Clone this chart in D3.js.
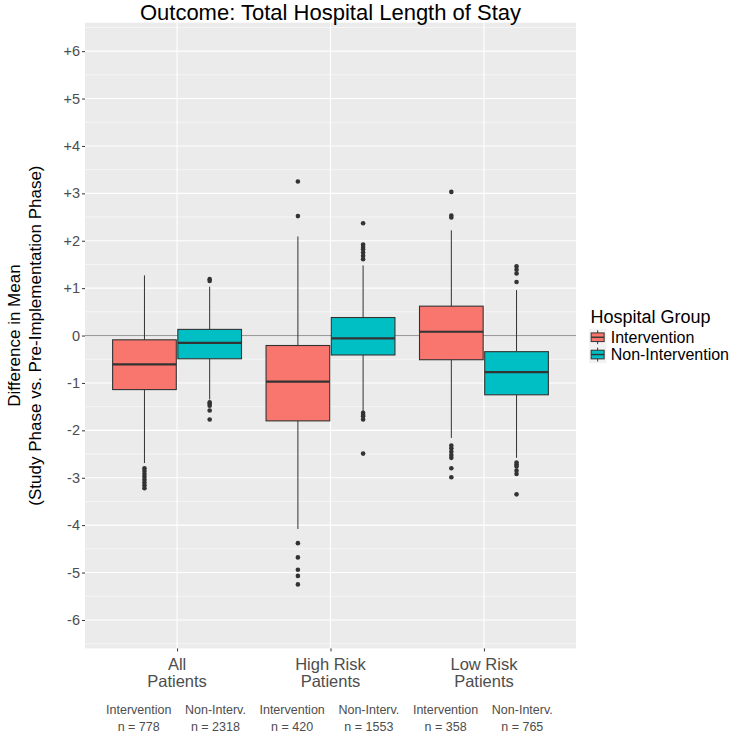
<!DOCTYPE html>
<html>
<head>
<meta charset="utf-8">
<script src="https://cdn.jsdelivr.net/npm/d3@7"></script>
<style>
  html, body { margin: 0; padding: 0; background: #ffffff; }
  svg { display: block; font-family: "Liberation Sans", Arial, Helvetica, sans-serif; }
</style>
</head>
<body>
<svg id="chart" width="750" height="750"></svg>
<script>
// ---------------- DATA ----------------
const title = "Outcome: Total Hospital Length of Stay";
const yTitleLines = ["Difference in Mean", "(Study Phase vs. Pre-Implementation Phase)"];
const categories = [["All", "Patients"], ["High Risk", "Patients"], ["Low Risk", "Patients"]];
const groups = ["Intervention", "Non-Intervention"];
const groupColors = ["#F8766D", "#00BFC4"];
const yTicks = [6, 5, 4, 3, 2, 1, 0, -1, -2, -3, -4, -5, -6];
const yTickLabels = ["+6", "+5", "+4", "+3", "+2", "+1", "0", "-1", "-2", "-3", "-4", "-5", "-6"];

// Intervention box statistics (per category)
const intLowerWhisker = [-2.69, -4.08, -2.16];
const intQ1           = [-1.14, -1.80, -0.51];
const intMedian       = [-0.61, -0.97,  0.08];
const intQ3           = [-0.09, -0.21,  0.62];
const intUpperWhisker = [ 1.27,  2.09,  2.22];
const intOutliers = [
  [-2.80, -2.86, -2.92, -2.98, -3.04, -3.10, -3.16, -3.22],
  [3.25, 2.52, -4.38, -4.68, -4.94, -5.07, -5.25],
  [3.03, 2.53, 2.49, -2.32, -2.38, -2.45, -2.52, -2.58, -2.80, -2.99]
];

// Non-Intervention box statistics (per category)
const nonLowerWhisker = [-1.35, -1.61, -2.58];
const nonQ1           = [-0.49, -0.41, -1.25];
const nonMedian       = [-0.155, -0.06, -0.77];
const nonQ3           = [ 0.13,  0.38, -0.34];
const nonUpperWhisker = [ 1.03,  1.48,  0.96];
const nonOutliers = [
  [1.19, 1.15, -1.41, -1.44, -1.48, -1.58, -1.77],
  [2.37, 1.92, 1.87, 1.82, 1.75, 1.68, 1.61, -1.63, -1.67, -1.70, -1.77, -2.49],
  [1.46, 1.39, 1.31, 1.13, -2.68, -2.72, -2.76, -2.85, -2.92, -3.35]
];

// Sample size annotations
const sampleLabels = ["Intervention", "Non-Interv."];
const sampleN = [[778, 2318], [420, 1553], [358, 765]];

// ---------------- BUILD ----------------
const seriesStats = [
  { lw: intLowerWhisker, q1: intQ1, med: intMedian, q3: intQ3, uw: intUpperWhisker, out: intOutliers },
  { lw: nonLowerWhisker, q1: nonQ1, med: nonMedian, q3: nonQ3, uw: nonUpperWhisker, out: nonOutliers }
];
const boxes = [];
seriesStats.forEach((s, gi) => {
  categories.forEach((c, ci) => {
    boxes.push({ ci, gi, lw: s.lw[ci], q1: s.q1[ci], med: s.med[ci], q3: s.q3[ci], uw: s.uw[ci], out: s.out[ci] });
  });
});

const svg = d3.select("#chart");
const panel = { left: 85, right: 576, top: 22.7, bottom: 648.4 };

const x = d3.scaleLinear().domain([-0.6, categories.length - 0.4]).range([panel.left, panel.right]);
const y = d3.scaleLinear().domain([-6.6, 6.6]).range([panel.bottom, panel.top]);

const dodge = 0.2125;   // offset of each box from category center (category units)
const boxW = 0.415;     // box width (category units)
const unit = x(1) - x(0);

// panel background
svg.append("rect")
  .attr("x", panel.left).attr("y", panel.top)
  .attr("width", panel.right - panel.left).attr("height", panel.bottom - panel.top)
  .attr("fill", "#EBEBEB");

// minor gridlines
const minorTicks = d3.range(-6.5, 6.6, 1);
svg.append("g").selectAll("line").data(minorTicks).join("line")
  .attr("x1", panel.left).attr("x2", panel.right)
  .attr("y1", d => y(d)).attr("y2", d => y(d))
  .attr("stroke", "#ffffff").attr("stroke-width", 0.55);

// major gridlines
svg.append("g").selectAll("line").data(yTicks).join("line")
  .attr("x1", panel.left).attr("x2", panel.right)
  .attr("y1", d => y(d)).attr("y2", d => y(d))
  .attr("stroke", "#ffffff").attr("stroke-width", 1.1);
svg.append("g").selectAll("line").data(categories.map((c, i) => i)).join("line")
  .attr("x1", d => x(d)).attr("x2", d => x(d))
  .attr("y1", panel.top).attr("y2", panel.bottom)
  .attr("stroke", "#ffffff").attr("stroke-width", 1.1);

// zero reference line
svg.append("line")
  .attr("x1", panel.left).attr("x2", panel.right)
  .attr("y1", y(0)).attr("y2", y(0))
  .attr("stroke", "#8a8a8a").attr("stroke-width", 0.9);

// boxes
const gBoxes = svg.append("g");
boxes.forEach(b => {
  const cx = x(b.ci + (b.gi === 0 ? -dodge : dodge));
  const hw = boxW * unit / 2;
  const g = gBoxes.append("g");
  // whiskers
  g.append("line").attr("x1", cx).attr("x2", cx).attr("y1", y(b.q3)).attr("y2", y(b.uw))
    .attr("stroke", "#333333").attr("stroke-width", 1);
  g.append("line").attr("x1", cx).attr("x2", cx).attr("y1", y(b.q1)).attr("y2", y(b.lw))
    .attr("stroke", "#333333").attr("stroke-width", 1);
  // box
  g.append("rect").attr("x", cx - hw).attr("y", y(b.q3))
    .attr("width", 2 * hw).attr("height", y(b.q1) - y(b.q3))
    .attr("fill", groupColors[b.gi]).attr("stroke", "#333333").attr("stroke-width", 1.1);
  // median
  g.append("line").attr("x1", cx - hw).attr("x2", cx + hw).attr("y1", y(b.med)).attr("y2", y(b.med))
    .attr("stroke", "#333333").attr("stroke-width", 2.2);
  // outliers
  g.selectAll("circle").data(b.out).join("circle")
    .attr("cx", cx).attr("cy", d => y(d)).attr("r", 2.3).attr("fill", "#333333");
});

// y axis
const yAxis = d3.axisLeft(y).tickValues(yTicks).tickSize(3).tickPadding(2)
  .tickFormat((d, i) => yTickLabels[i]);
const gy = svg.append("g").attr("transform", `translate(${panel.left},0)`).call(yAxis);
gy.select(".domain").remove();
gy.selectAll(".tick line").attr("stroke", "#333333").attr("stroke-width", 1);
gy.selectAll(".tick text").attr("fill", "#4D4D4D").style("font-size", "14.5px")
  .style("font-family", "'Liberation Sans', Arial, sans-serif");

// x axis
const xAxis = d3.axisBottom(x).tickValues(categories.map((c, i) => i)).tickSize(3).tickFormat("");
const gx = svg.append("g").attr("transform", `translate(0,${panel.bottom})`).call(xAxis);
gx.select(".domain").remove();
gx.selectAll(".tick line").attr("stroke", "#333333").attr("stroke-width", 1);

// category labels
const catG = svg.append("g").attr("fill", "#4D4D4D").style("font-size", "16.5px").attr("text-anchor", "middle");
categories.forEach((lines, i) => {
  lines.forEach((ln, li) => {
    catG.append("text").attr("x", x(i)).attr("y", 669.5 + li * 17).text(ln);
  });
});

// sample-size annotations
const nG = svg.append("g").attr("fill", "#4D4D4D").style("font-size", "12.5px").attr("text-anchor", "middle");
sampleN.forEach((ns, ci) => {
  ns.forEach((n, gi) => {
    const px = x(ci + (gi === 0 ? -0.25 : 0.25));
    nG.append("text").attr("x", px).attr("y", 714).text(sampleLabels[gi]);
    nG.append("text").attr("x", px).attr("y", 731).text("n = " + n);
  });
});

// title
svg.append("text").attr("x", (panel.left + panel.right) / 2).attr("y", 20)
  .attr("text-anchor", "middle").style("font-size", "22px").attr("fill", "#000").text(title);

// y axis title
const yMid = (panel.top + panel.bottom) / 2;
yTitleLines.forEach((ln, i) => {
  const bx = 19.5 + i * 21;
  svg.append("text").attr("transform", `translate(${bx},${yMid}) rotate(-90)`)
    .attr("text-anchor", "middle").style("font-size", "17px").attr("fill", "#000").text(ln);
});

// legend
const leg = svg.append("g");
leg.append("text").attr("x", 590.5).attr("y", 322.5).style("font-size", "18px").attr("fill", "#000").text("Hospital Group");
const keySize = 17.3;
groups.forEach((gname, i) => {
  const ky = 328.6 + i * keySize;
  const kx = 589;
  leg.append("rect").attr("x", kx).attr("y", ky).attr("width", keySize).attr("height", keySize).attr("fill", "#F2F2F2");
  const cxk = kx + keySize / 2;
  leg.append("line").attr("x1", cxk).attr("x2", cxk).attr("y1", ky + keySize * 0.1).attr("y2", ky + keySize * 0.9)
    .attr("stroke", "#333333").attr("stroke-width", 1);
  leg.append("rect").attr("x", kx + keySize * 0.125).attr("y", ky + keySize * 0.25)
    .attr("width", keySize * 0.75).attr("height", keySize * 0.5)
    .attr("fill", groupColors[i]).attr("stroke", "#333333").attr("stroke-width", 1);
  leg.append("line").attr("x1", kx + keySize * 0.125).attr("x2", kx + keySize * 0.875)
    .attr("y1", ky + keySize / 2).attr("y2", ky + keySize / 2)
    .attr("stroke", "#333333").attr("stroke-width", 1.4);
  leg.append("text").attr("x", 610.7).attr("y", ky + keySize / 2).attr("dy", "0.35em")
    .style("font-size", "16px").attr("fill", "#000").text(gname);
});
</script>
</body>
</html>
